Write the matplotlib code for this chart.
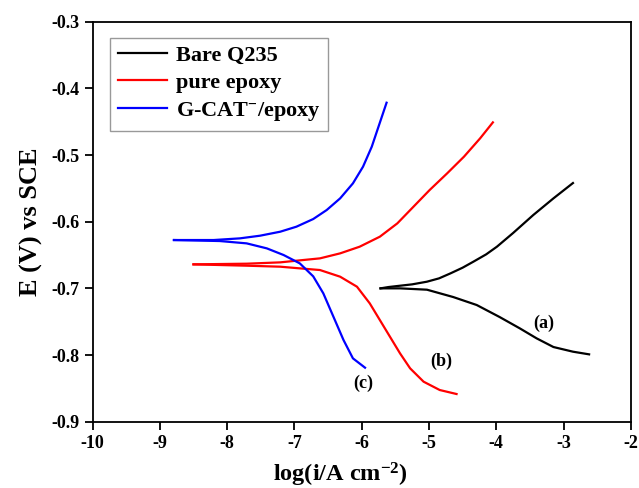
import matplotlib.pyplot as plt
import numpy as np

plt.rcParams['font.family'] = ['Liberation Serif', 'DejaVu Serif']
plt.rcParams['font.weight'] = 'bold'
plt.rcParams['axes.unicode_minus'] = False
plt.rcParams['mathtext.fontset'] = 'custom'
plt.rcParams['mathtext.rm'] = 'Liberation Serif:bold'
plt.rcParams['mathtext.bf'] = 'Liberation Serif:bold'
plt.rcParams['mathtext.default'] = 'bf'

# (a) Bare Q235
bare_an_x = [-5.72, -5.60, -5.47, -5.25, -5.03, -4.85, -4.68, -4.50, -4.34, -4.15, -3.99,
             -3.75, -3.45, -3.15, -2.86]
bare_an_y = [-0.700, -0.698, -0.6965, -0.694, -0.690, -0.685, -0.6775, -0.669, -0.660, -0.649, -0.6375,
             -0.617, -0.590, -0.565, -0.542]
bare_ca_x = [-5.72, -5.43, -5.03, -4.64, -4.29, -3.95, -3.65, -3.40, -3.15, -2.86, -2.62]
bare_ca_y = [-0.700, -0.700, -0.702, -0.713, -0.725, -0.743, -0.760, -0.775, -0.788, -0.795, -0.799]

# (b) pure epoxy
epo_an_x = [-8.50, -7.71, -7.21, -6.92, -6.62, -6.32, -6.03, -5.73, -5.47, -5.23, -4.99,
            -4.73, -4.48, -4.24, -4.05]
epo_an_y = [-0.664, -0.663, -0.661, -0.658, -0.655, -0.6475, -0.6375, -0.6225, -0.6025, -0.5775, -0.5525,
            -0.5275, -0.5025, -0.475, -0.451]
epo_ca_x = [-8.50, -7.71, -7.21, -6.92, -6.62, -6.32, -6.07, -5.88, -5.73, -5.58, -5.43,
            -5.28, -5.08, -4.84, -4.59]
epo_ca_y = [-0.664, -0.666, -0.6675, -0.670, -0.6725, -0.6825, -0.6975, -0.7225, -0.7475, -0.7725, -0.7975,
            -0.820, -0.840, -0.8525, -0.8585]

# (c) G-CAT-/epoxy
gcat_an_x = [-8.79, -8.20, -7.81, -7.51, -7.21, -6.97, -6.72, -6.52, -6.32, -6.13, -5.98,
             -5.85, -5.75, -5.63]
gcat_an_y = [-0.6275, -0.6275, -0.625, -0.621, -0.615, -0.6075, -0.596, -0.5825, -0.565, -0.5425, -0.5175,
             -0.4875, -0.4575, -0.4215]
gcat_ca_x = [-8.79, -8.11, -7.71, -7.41, -7.16, -6.92, -6.72, -6.57, -6.42, -6.27, -6.13, -5.95]
gcat_ca_y = [-0.6275, -0.629, -0.6325, -0.640, -0.650, -0.6625, -0.682, -0.7075, -0.7425, -0.7775, -0.805, -0.819]

fig = plt.figure(figsize=(6.39, 4.88), dpi=100)
ax = fig.add_axes([0.1448, 0.1359, 0.8424, 0.8196])

lw = 1.6
ax.plot(bare_an_x, bare_an_y, color='black', lw=lw, label='Bare Q235')
ax.plot(bare_ca_x, bare_ca_y, color='black', lw=lw)
ax.plot(epo_an_x, epo_an_y, color='red', lw=lw, label='pure epoxy')
ax.plot(epo_ca_x, epo_ca_y, color='red', lw=lw)
ax.plot(gcat_an_x, gcat_an_y, color='blue', lw=lw, label='G-CAT$^{-}$/epoxy')
ax.plot(gcat_ca_x, gcat_ca_y, color='blue', lw=lw)

ax.text(-3.30, -0.752, '(a)', fontsize=13, fontweight='bold', ha='center', va='center')
ax.text(-4.81, -0.810, '(b)', fontsize=13, fontweight='bold', ha='center', va='center')
ax.text(-5.98, -0.8425, '(c)', fontsize=13, fontweight='bold', ha='center', va='center')

ax.set_xlim(-10, -2)
ax.set_ylim(-0.9, -0.3)
ax.set_xticks(np.arange(-10, -1, 1))
ax.set_yticks(np.arange(-0.9, -0.29, 0.1))
ax.set_yticklabels(['%.1f' % v for v in np.arange(-0.9, -0.29, 0.1)])
ax.tick_params(direction='out', length=6, width=1.3, labelsize=13)
for s in ax.spines.values():
    s.set_linewidth(1.3)

ax.set_xlabel('log(i/A cm$^{-2}$)', fontsize=17.5, fontweight='bold')
ax.xaxis.set_label_coords(0.46, -0.098)
ax.set_ylabel('E (V) vs SCE', fontsize=19, fontweight='bold', labelpad=6)

leg = ax.legend(loc='upper left', bbox_to_anchor=(0.012, 0.988), fontsize=16,
                frameon=True, fancybox=False, handlelength=2.2, handletextpad=0.4,
                labelspacing=0.3, borderpad=0.35)
leg.get_frame().set_edgecolor('gray')
leg.get_frame().set_linewidth(1.0)

fig.savefig('out.png', dpi=100)
